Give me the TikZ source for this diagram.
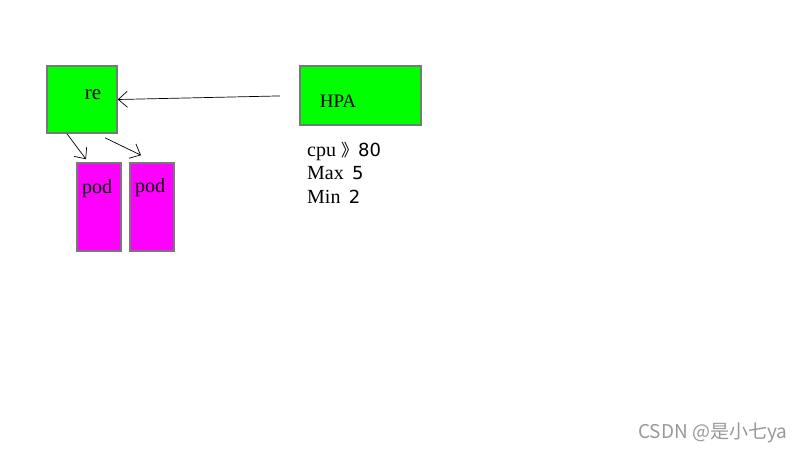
\documentclass[tikz,border=0pt]{standalone}
\usepackage{fontspec}
\setmainfont{Liberation Serif}
\newfontfamily\numfont{DejaVu Sans}
\newfontfamily\cjk{Noto Sans CJK SC}
\usetikzlibrary{arrows.meta}
\definecolor{boxgreen}{RGB}{0,255,0}
\definecolor{boxpink}{RGB}{255,0,255}
\definecolor{boxedge}{RGB}{120,120,120}
\tikzset{
  ctrl/.style={draw=boxedge,line width=1.6pt,fill=boxgreen,inner sep=0pt},
  podbox/.style={draw=boxedge,line width=1.6pt,fill=boxpink,inner sep=0pt,
    minimum width=44pt,minimum height=88pt},
  arr/.style={-{Straight Barb[length=9pt,width=16pt]},line width=0.7pt},
  info/.style={anchor=base west,inner sep=0pt,font=\fontsize{20}{20}\selectfont}
}
\begin{document}
\begin{tikzpicture}[x=1pt,y=-1pt]
    \useasboundingbox[fill=white] (0,0) rectangle (805,453);
    \node[ctrl,minimum width=70pt,minimum height=67pt] (re) at (82,99.5) {};
    \node[font=\fontsize{21}{21}\selectfont] at (93,95) {re};
    \node[ctrl,minimum width=121pt,minimum height=59pt] (hpa) at (360.5,95.5) {};
    \node[font=\fontsize{19}{19}\selectfont] at (338,101) {HPA};
    \node[podbox] (podA) at (99,207) {};
    \node[podbox] (podB) at (152,207) {};
    \node[font=\fontsize{20}{20}\selectfont] at (97,189) {pod};
    \node[font=\fontsize{20}{20}\selectfont] at (150,188) {pod};
    \draw[arr,shorten <=19pt] (hpa.west) -- (re.east);
    \draw[arr] ([xshift=-15pt]re.south) -- ([xshift=-13pt,yshift=3pt]podA.north);
    \draw[arr] ([xshift=23pt,yshift=-4pt]re.south) -- ([xshift=-11pt,yshift=7pt]podB.north);
    \node[info] (cpu) at (307,156) {cpu\ {\cjk\fontsize{17}{17}\selectfont 》}{\numfont\fontsize{18}{18}\selectfont 80}};
    \node[info] (max) at (307,179.5) {Max\ \,{\numfont\fontsize{18}{18}\selectfont 5}};
    \node[info] (min) at (307,203) {Min\ \,{\numfont\fontsize{18}{18}\selectfont 2}};
    \node[anchor=west,inner sep=0pt,text=black!40,font=\cjk\fontsize{19}{19}\selectfont] (mark) at (638,433) {CSDN @是小七ya};
  \end{tikzpicture}
\end{document}
